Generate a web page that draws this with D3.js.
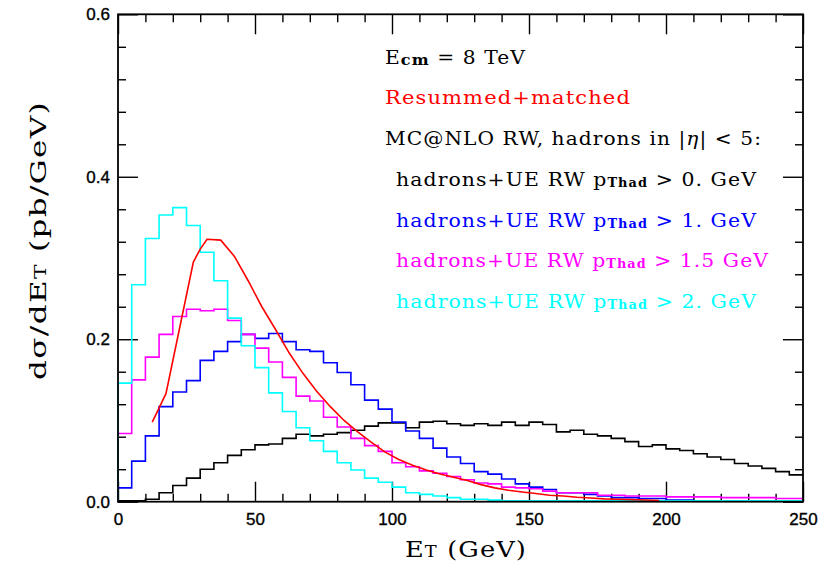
<!DOCTYPE html>
<html>
<head>
<meta charset="utf-8">
<script src="https://cdn.jsdelivr.net/npm/d3@7"></script>
<style>
  body { margin: 0; background: #fff; }
  .tick text { font-family: "Liberation Sans", Arial, sans-serif; font-size: 17px; fill: #000; stroke: #000; stroke-width: 0.35px; }
  .serif { font-family: "DejaVu Serif", serif; letter-spacing: 1px; }
</style>
</head>
<body>
<div id="chart"></div>
<script>
// ET distributions: resummed curve vs MC@NLO reweighted histograms (5 GeV bins)
const binWidth = 5;
const binLow = d3.range(0, 250, binWidth);

// hadrons+UE RW, pThad > 0 GeV
const ptHad0 = [0.001,0.001,0.003,0.011,0.020,0.029,0.040,0.048,0.057,0.064,
  0.070,0.071,0.078,0.083,0.081,0.083,0.085,0.088,0.093,0.097,
  0.097,0.091,0.098,0.099,0.096,0.094,0.096,0.094,0.098,0.094,
  0.098,0.095,0.086,0.088,0.083,0.081,0.078,0.074,0.068,0.070,
  0.065,0.063,0.059,0.055,0.052,0.047,0.044,0.041,0.037,0.033];
// pThad > 1 GeV
const ptHad1 = [0.017,0.050,0.081,0.117,0.135,0.149,0.174,0.185,0.197,0.206,
  0.201,0.207,0.197,0.187,0.185,0.171,0.159,0.144,0.125,0.114,
  0.098,0.087,0.078,0.066,0.055,0.047,0.037,0.034,0.028,0.022,
  0.018,0.015,0.011,0.011,0.009,0.007,0.005,0.005,0.004,0.004,
  0.002,0.002,0.001,0.001,0.001,0.001,0.001,0.001,0.001,0.001];
// pThad > 1.5 GeV
const ptHad15 = [0.084,0.150,0.178,0.206,0.228,0.237,0.235,0.237,0.223,0.206,
  0.189,0.172,0.153,0.130,0.124,0.104,0.092,0.078,0.069,0.062,
  0.048,0.043,0.038,0.035,0.031,0.027,0.023,0.022,0.018,0.017,
  0.016,0.013,0.011,0.011,0.011,0.008,0.008,0.007,0.007,0.007,
  0.006,0.006,0.006,0.006,0.005,0.005,0.005,0.005,0.004,0.004];
// pThad > 2 GeV
const ptHad2 = [0.146,0.267,0.324,0.353,0.362,0.340,0.307,0.272,0.226,0.192,
  0.165,0.134,0.111,0.091,0.075,0.062,0.048,0.039,0.029,0.024,
  0.018,0.011,0.009,0.007,0.005,0.003,0.003,0.002,0.001,0.001,
  0.001,0.001,0.001,0.001,0.001,0.001,0.001,0.001,0.001,0.001,
  0.001,0.001,0.001,0.001,0.001,0.001,0.001,0.001,0.001,0.001];

// Resummed+matched curve
const resumET = [12.5,17.5,27.5,30,32.5,37.5,42.5,47.5,52.5,57.5,62.5,67.5,72.5,77.5,82.5,
  87.5,92.5,97.5,102.5,107.5,112.5,117.5,122.5,127.5,132.5,137.5,142.5,147.5,152.5,
  157.5,162.5,167.5,172.5,177.5,182.5,187.5,192.5,197.5];
const resumVal = [0.098,0.133,0.295,0.311,0.323,0.322,0.302,0.272,0.240,0.212,0.183,0.158,0.136,0.117,0.100,
  0.086,0.073,0.061,0.052,0.045,0.039,0.034,0.030,0.026,0.021,0.017,0.014,0.012,0.010,
  0.008,0.007,0.0055,0.0045,0.0035,0.003,0.0025,0.002,0.0015];

const xMajor = [0, 50, 100, 150, 200, 250];
const yMajor = [0, 0.2, 0.4, 0.6];
const cuts = ["0.", "1.", "1.5", "2."];

const W = 830, H = 564;
const plot = { left: 118, right: 803, top: 14.3, bottom: 501.7 };

const svg = d3.select("#chart").append("svg")
    .attr("width", W)
    .attr("height", H);

const x = d3.scaleLinear().domain([0, 250]).range([plot.left, plot.right]);
const y = d3.scaleLinear().domain([0, 0.6]).range([plot.bottom, plot.top]);

const xMinor = d3.range(0, 251, 10).filter(v => v % 50 !== 0);
const yMinor = d3.range(0, 0.61, 0.04).filter((v, i) => i % 5 !== 0);

// ticks point inward on all four sides
function drawAxis(axisFn, scale, pos, major, minor, labels, fmt, pad) {
    const g = svg.append("g").attr("transform", pos);
    g.call(axisFn(scale).tickValues(major).tickSizeInner(-20).tickSizeOuter(0)
        .tickPadding(pad).tickFormat(labels ? d3.format(fmt) : ""));
    g.append("g").call(axisFn(scale).tickValues(minor).tickSizeInner(-8).tickSizeOuter(0).tickFormat(""));
    g.selectAll(".domain").remove();
    g.selectAll("line").attr("stroke", "#000").attr("stroke-width", 1.4);
}
drawAxis(d3.axisBottom, x, `translate(0,${plot.bottom})`, xMajor, xMinor, true, "d", 11);
drawAxis(d3.axisTop, x, `translate(0,${plot.top})`, xMajor, xMinor, false, "d", 0);
drawAxis(d3.axisLeft, y, `translate(${plot.left},0)`, yMajor, yMinor, true, ".1f", 8);
drawAxis(d3.axisRight, y, `translate(${plot.right},0)`, yMajor, yMinor, false, ".1f", 0);

// histograms
const stepLine = d3.line().x(d => x(d[0])).y(d => y(d[1])).curve(d3.curveStepAfter);
const histos = [
    { vals: ptHad0, color: "#000000" },
    { vals: ptHad1, color: "#0000ff" },
    { vals: ptHad15, color: "#ff00ff" },
    { vals: ptHad2, color: "#00ffff" }
];
histos.forEach(h => {
    const pts = [[0, 0]].concat(binLow.map((b, i) => [b, h.vals[i]]));
    pts.push([250, h.vals[h.vals.length - 1]]);
    svg.append("path")
        .attr("d", stepLine(pts))
        .attr("fill", "none")
        .attr("stroke", h.color)
        .attr("stroke-width", 1.6);
});

// resummed curve
const curve = d3.line().x((d, i) => x(resumET[i])).y(d => y(d));
svg.append("path")
    .attr("d", curve(resumVal))
    .attr("fill", "none")
    .attr("stroke", "#ff0000")
    .attr("stroke-width", 1.6);

// frame
svg.append("rect")
    .attr("x", plot.left).attr("y", plot.top)
    .attr("width", plot.right - plot.left).attr("height", plot.bottom - plot.top)
    .attr("fill", "none").attr("stroke", "#000").attr("stroke-width", 1.8);

// legend text
function addText(xp, yp, color, len, parts) {
    const t = svg.append("text").attr("class", "serif")
        .attr("x", xp).attr("y", yp)
        .attr("fill", color)
        .attr("textLength", len)
        .attr("lengthAdjust", "spacingAndGlyphs")
        .style("font-size", "19px");
    parts.forEach(p => {
        const s = t.append("tspan").text(p.t);
        if (p.sub) s.style("font-size", p.sub + "px").style("font-weight", "bold").attr("dy", 1);
        if (p.up) s.attr("dy", -1);
        if (p.it) s.style("font-style", "italic");
    });
    return t;
}
addText(385, 64, "#000", 141, [{ t: "E" }, { t: "cm", sub: 15 }, { t: " = 8 TeV", up: true }]);
addText(385, 104, "#ff0000", 246, [{ t: "Resummed+matched" }]);
addText(385, 145, "#000", 377, [{ t: "MC@NLO RW, hadrons in |" }, { t: "η", it: true }, { t: "| < 5:" }]);

const legendLen = [361, 361, 373, 361];
histos.forEach((h, i) => {
    addText(396, 186 + i * 40.7, h.color, legendLen[i], [
        { t: "hadrons+UE RW p" }, { t: "Thad", sub: 12 }, { t: " > " + cuts[i] + " GeV", up: true }
    ]);
});

// axis titles
const xt = svg.append("text").attr("class", "serif")
    .attr("x", 405).attr("y", 557)
    .attr("textLength", 122).attr("lengthAdjust", "spacingAndGlyphs")
    .style("font-size", "23px");
xt.append("tspan").text("E");
xt.append("tspan").text("T").style("font-size", "16px");
xt.append("tspan").text(" (GeV)");

const yt = svg.append("text").attr("class", "serif")
    .attr("transform", "translate(46,240.5) rotate(-90)")
    .attr("text-anchor", "middle")
    .attr("textLength", 279).attr("lengthAdjust", "spacingAndGlyphs")
    .style("font-size", "23px");
yt.append("tspan").text("dσ/dE");
yt.append("tspan").text("T").style("font-size", "16px");
yt.append("tspan").text(" (pb/GeV)");
</script>
</body>
</html>
